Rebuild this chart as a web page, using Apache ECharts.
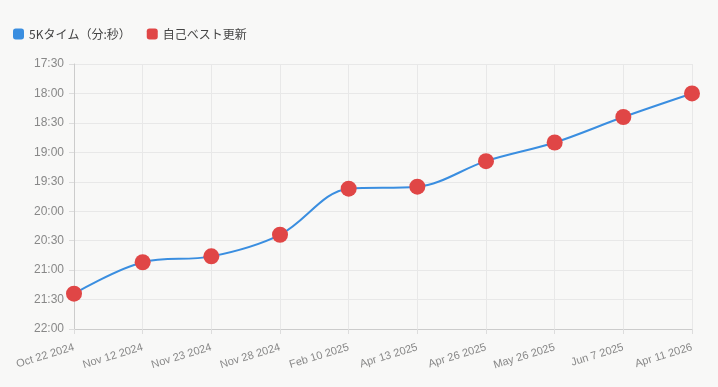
<!DOCTYPE html>
<html><head><meta charset="utf-8">
<script src="https://cdn.jsdelivr.net/npm/echarts@6/dist/echarts.min.js"></script>
<style>html,body{margin:0;padding:0;background:#f8f8f7;}#c{width:718px;height:387px;}</style>
</head><body><div id="c"></div>
<script>
const categories = ["Oct 22 2024","Nov 12 2024","Nov 23 2024","Nov 28 2024","Feb 10 2025","Apr 13 2025","Apr 26 2025","May 26 2025","Jun 7 2025","Apr 11 2026"];
// times in seconds
const times = [1284, 1252, 1246, 1224, 1177, 1175, 1149, 1130, 1104, 1080];
const lineName = "5Kタイム（分:秒）";
const pbName = "自己ベスト更新";
const yMin = 1050, yMax = 1320, yStep = 30;

function fmt(v){const m=Math.floor(v/60), s=Math.round(v%60);return m+":"+(s<10?"0":"")+s;}
const chart = echarts.init(document.getElementById('c'));
chart.setOption({
  backgroundColor:'#f8f8f7',
  animation:false,
  legend:{left:8,top:23,itemWidth:11,itemHeight:11,itemGap:16,icon:'roundRect',
    textStyle:{color:'#444',fontSize:12,fontFamily:'"Noto Sans CJK JP", sans-serif'},
    data:[{name:lineName,itemStyle:{color:'#3a8ee0'}},{name:pbName,itemStyle:{color:'#e04646'}}]},
  grid:{left:74,right:26,top:64,bottom:58},
  xAxis:{type:'category',data:categories,boundaryGap:false,
    axisLine:{lineStyle:{color:'#cccccc'}},axisTick:{show:true,lineStyle:{color:'#dddddd'},length:5},
    axisLabel:{rotate:17,color:'#888',fontSize:11,margin:18,interval:0,fontFamily:'Liberation Sans'},
    splitLine:{show:true,lineStyle:{color:'#e8e8e8'}}},
  yAxis:{type:'value',inverse:true,min:yMin,max:yMax,interval:yStep,
    axisLine:{show:true,lineStyle:{color:'#cccccc'}},axisTick:{show:true,length:5,lineStyle:{color:'#dddddd'}},
    axisLabel:{color:'#888',fontSize:12,formatter:fmt,margin:10,fontFamily:'Liberation Sans'},
    splitLine:{lineStyle:{color:'#e8e8e8'}}},
  series:[
    {name:lineName,type:'line',data:times,smooth:0.35,showSymbol:false,
     lineStyle:{color:'#3a8ee0',width:2},itemStyle:{color:'#3a8ee0'},z:2},
    {name:pbName,type:'scatter',data:times,symbolSize:16,
     itemStyle:{color:'#e04646',opacity:1},z:3}
  ]
});
</script></body></html>
